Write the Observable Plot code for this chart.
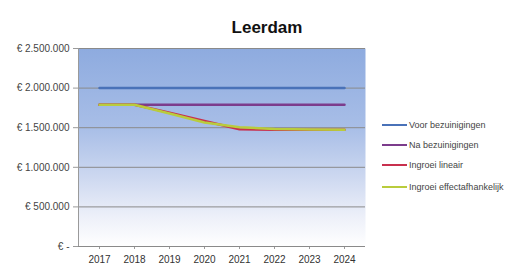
<!DOCTYPE html>
<html><head><meta charset="utf-8">
<script src="https://cdn.jsdelivr.net/npm/d3@7"></script>
<script src="https://cdn.jsdelivr.net/npm/@observablehq/plot@0.6"></script>
<style>
html,body{margin:0;padding:0;background:#fff;}
#chart{position:relative;width:523px;height:271px;}
</style></head><body>
<div id="chart"></div>
<script>
const years = ["2017","2018","2019","2020","2021","2022","2023","2024"];
const seriesNames = ["Voor bezuinigingen","Na bezuinigingen","Ingroei lineair","Ingroei effectafhankelijk"];
const seriesColors = ["#4a72b8","#7c3c8c","#c8304e","#b9cc3c"];
const voor = [2000000,2000000,2000000,2000000,2000000,2000000,2000000,2000000];
const na = [1790000,1790000,1790000,1790000,1790000,1790000,1790000,1790000];
const lineair = [1790000,1790000,1690000,1585000,1480000,1475000,1475000,1475000];
const effect = [1790000,1790000,1680000,1565000,1505000,1485000,1478000,1475000];
const yTicks = [0,500000,1000000,1500000,2000000,2500000];
const title = "Leerdam";

const all = [voor, na, lineair, effect];
const data = [];
all.forEach((arr, s) => arr.forEach((v, i) => data.push({year: years[i], value: v, series: seriesNames[s]})));

const fmt = d => d === 0 ? "€ -" : "€ " + d3.format(",")(d).replace(/,/g, ".");

const plot = Plot.plot({
  width: 523, height: 271,
  marginLeft: 78, marginRight: 158, marginTop: 48, marginBottom: 25,
  style: {fontFamily: "Liberation Sans, Arial, sans-serif", background: "#fff", overflow: "visible"},
  x: {type: "point", domain: years, padding: 0.5, label: null},
  y: {domain: [0, 2500000], ticks: yTicks, label: null},
  color: {domain: seriesNames, range: seriesColors},
  marks: [
    Plot.frame({fill: "url(#bgGrad)", stroke: null}),
    Plot.gridY(yTicks, {stroke: "#8a8a8a", strokeOpacity: 1, strokeWidth: 1}),
    Plot.frame({anchor: "left", stroke: "#9a9a9a"}),
    Plot.axisY({ticks: yTicks, tickFormat: fmt, tickSize: 5, tickPadding: 4, fontSize: 10, fill: "#444", stroke: "#9a9a9a"}),
    Plot.axisX({tickSize: 3, tickPadding: 6, fontSize: 10, fill: "#333", stroke: "#9a9a9a"}),
    Plot.ruleY([0], {stroke: "#8a8a8a"}),
    Plot.line(data, {x: "year", y: "value", z: "series", stroke: "series", strokeWidth: 2.5}),
    Plot.text([title], {frameAnchor: "top", dy: -28, dx: 45, fontSize: 17, fontWeight: "bold", fill: "#111"})
  ]
});

const svg = d3.select(plot);
const defs = svg.insert("defs", ":first-child");
const g = defs.append("linearGradient").attr("id","bgGrad").attr("x1",0).attr("y1",0).attr("x2",0).attr("y2",1);
g.append("stop").attr("offset","0%").attr("stop-color","#8eabdf");
g.append("stop").attr("offset","40%").attr("stop-color","#a8bee7");
g.append("stop").attr("offset","65%").attr("stop-color","#cdd8f0");
g.append("stop").attr("offset","85%").attr("stop-color","#edf0f9");
g.append("stop").attr("offset","100%").attr("stop-color","#ffffff");

// legend
const leg = svg.append("g").attr("font-size", 9).attr("font-family","Liberation Sans, Arial, sans-serif").attr("text-anchor","start");
const legY = [125, 145, 165, 187];
seriesNames.forEach((n, i) => {
  leg.append("line").attr("x1", 382).attr("x2", 407).attr("y1", legY[i]).attr("y2", legY[i])
    .attr("stroke", seriesColors[i]).attr("stroke-width", 2);
  leg.append("text").attr("x", 409).attr("y", legY[i]).attr("dy", "0.35em").attr("fill", "#444").text(n);
});

document.getElementById("chart").appendChild(plot);
</script>
</body></html>
